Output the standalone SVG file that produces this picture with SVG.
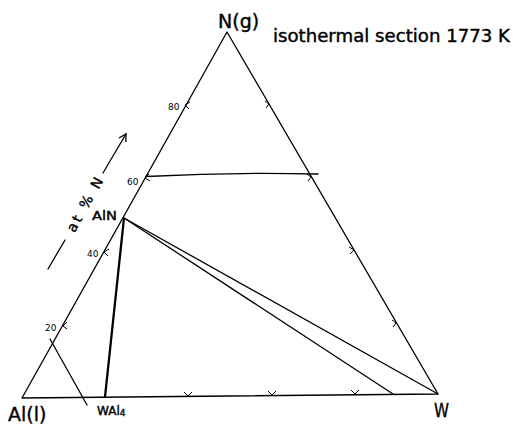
<svg xmlns="http://www.w3.org/2000/svg" width="513" height="425" viewBox="0 0 513 425">
<style>
.ln{fill:none;stroke:#000;stroke-width:1.3;stroke-linecap:round;stroke-linejoin:round}
.tk{fill:none;stroke:#000;stroke-width:1}
.t{font-family:"DejaVu Sans","Liberation Sans",sans-serif;fill:#000}
.b{stroke:#000;stroke-width:0.4}
.s{font-size:9px}
</style>
<defs>
<marker id="ah" markerWidth="10" markerHeight="10" refX="8" refY="5" orient="auto" markerUnits="userSpaceOnUse">
<path d="M1,1 L8,5 L1,9" fill="none" stroke="#000" stroke-width="1.3"/>
</marker>
</defs>
<rect width="513" height="425" fill="#fff"/>
<g id="connectors">
<path class="ln" d="M22,398 L227,32 L438,394 Z"/>
<path class="ln" d="M146,176.5 C200,173.5 260,172.5 318,174"/>
<path class="ln" d="M124,218 L438,394"/>
<path class="ln" d="M124,218 L393,394"/>
<path d="M105,397 L124,218" fill="none" stroke="#000" stroke-width="2.3"/>
<path class="ln" d="M50,339 L87,405"/>
<path class="ln" d="M48,269 L65,240"/>
<path class="ln" d="M103,173 L126,134" marker-end="url(#ah)"/>
</g>
<g id="ticks">
<path class="tk" d="M190,102 L185,105 L189,109"/>
<path class="tk" d="M149,174 L145,178 L150,181"/>
<path class="tk" d="M109,249 L104,252 L108,256"/>
<path class="tk" d="M67,322 L63,326 L67,329"/>
<path class="tk" d="M265,101 L269,104 L266,108"/>
<path class="tk" d="M307,174 L311,177 L308,181"/>
<path class="tk" d="M349,247 L354,250 L350,254"/>
<path class="tk" d="M392,320 L396,323 L393,327"/>
<path class="tk" d="M184,392 L188,396 L192,392"/>
<path class="tk" d="M268,391 L272,395 L276,391"/>
<path class="tk" d="M351,390 L355,394 L359,390"/>
</g>
<g id="node-N"><text class="t b" x="218" y="28" font-size="19">N(g)</text></g>
<g id="node-Al"><text class="t b" x="8" y="421" font-size="19">Al(l)</text></g>
<g id="node-W"><text class="t b" x="434" y="417" font-size="19" textLength="15" lengthAdjust="spacingAndGlyphs">W</text></g>
<g id="node-AlN"><text class="t b" x="92" y="220" font-size="12" textLength="25" lengthAdjust="spacingAndGlyphs">AlN</text></g>
<g id="node-WAl4"><text class="t b" x="97" y="415" font-size="12">WAl<tspan font-size="9" dy="1">4</tspan></text></g>
<g id="title"><text class="t b" x="273" y="42" font-size="17" textLength="237" lengthAdjust="spacingAndGlyphs">isothermal section 1773 K</text></g>
<g id="axis-label"><text class="t b" x="0" y="0" font-size="14" text-anchor="middle" textLength="60" transform="translate(89,207) rotate(-61)">at % N</text></g>
<g id="tick-labels">
<text class="t s" x="168" y="110">80</text>
<text class="t s" x="127" y="185">60</text>
<text class="t s" x="87" y="257">40</text>
<text class="t s" x="45" y="331">20</text>
</g>
</svg>
